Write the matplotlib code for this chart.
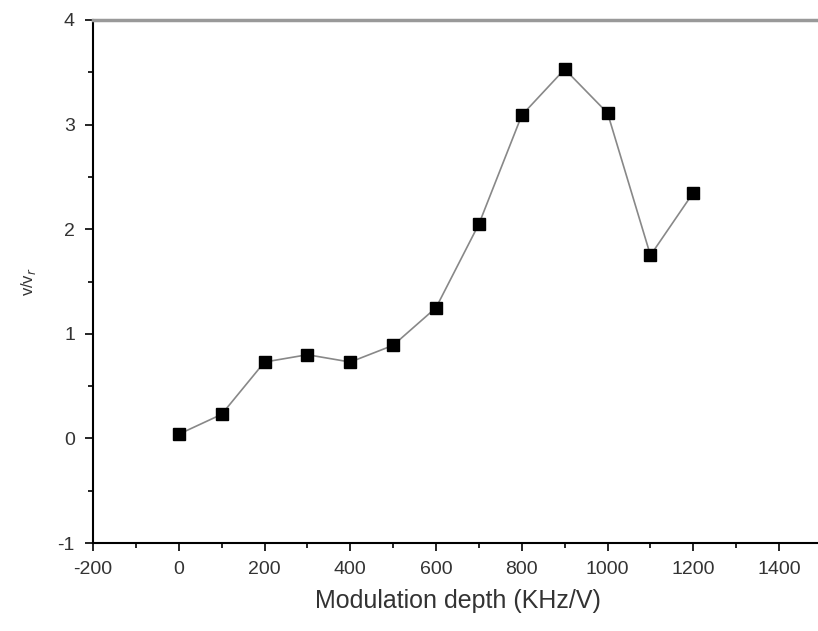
import matplotlib.pyplot as plt
from matplotlib.ticker import MultipleLocator

plt.rcParams['font.family'] = ['Liberation Sans', 'DejaVu Sans']
plt.rcParams['axes.unicode_minus'] = False

depth = [0, 100, 200, 300, 400, 500, 600, 700, 800, 900, 1000, 1100, 1200]
ratio = [0.04, 0.23, 0.73, 0.80, 0.73, 0.89, 1.25, 2.05, 3.09, 3.53, 3.11, 1.75, 2.35]

fig = plt.figure(figsize=(8.18, 6.31), dpi=100)
# axes run slightly past the right edge of the figure, as in the original crop
ax = fig.add_axes([93 / 818, 1 - 543 / 631, 729 / 818, 523 / 631])

ax.plot(depth, ratio, '-', color='#888888', lw=1.2, zorder=2)
ax.plot(depth, ratio, 's', color='black', ms=8, zorder=3)

ax.set_xlim(-200, 1500)
ax.set_ylim(-1, 4)
ax.xaxis.set_major_locator(MultipleLocator(200))
ax.xaxis.set_minor_locator(MultipleLocator(100))
ax.yaxis.set_major_locator(MultipleLocator(1))
ax.yaxis.set_minor_locator(MultipleLocator(0.5))
ax.set_xticks([-200, 0, 200, 400, 600, 800, 1000, 1200, 1400])

ax.spines['right'].set_visible(False)
ax.spines['top'].set_color('#999999')
ax.spines['top'].set_linewidth(2.5)
for s in ('left', 'bottom'):
    ax.spines[s].set_linewidth(1.5)

ax.tick_params(which='major', direction='out', length=6, width=1.2,
               labelsize=14, labelcolor='#333333', pad=7)
ax.tick_params(which='minor', direction='out', length=3.5, width=1.2)
ax.tick_params(top=False, right=False, which='both')

ax.set_xlabel('Modulation depth (KHz/V)', fontsize=18, color='#333333', labelpad=8)
ax.set_ylabel('v/v$_r$', fontsize=12, color='#333333', labelpad=14)

fig.savefig('out.png', dpi=100)
